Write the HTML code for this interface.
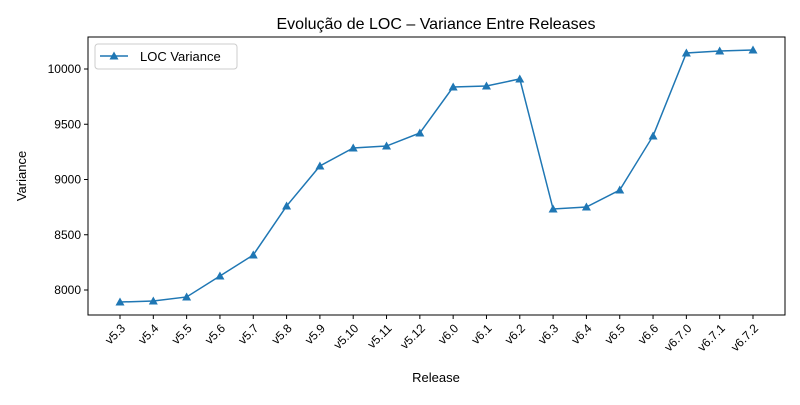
<!DOCTYPE html>
<html><head><meta charset="utf-8"><style>body{margin:0;background:#fff}svg{font-family:"Liberation Sans","DejaVu Sans",sans-serif}</style></head>
<body>
<svg id="c" width="800" height="400" xmlns="http://www.w3.org/2000/svg"></svg>
<script>
const categories=["v5.3","v5.4","v5.5","v5.6","v5.7","v5.8","v5.9","v5.10","v5.11","v5.12","v6.0","v6.1","v6.2","v6.3","v6.4","v6.5","v6.6","v6.7.0","v6.7.1","v6.7.2"];
const variance=[7891,7900,7937,8127,8317,8760,9122,9285,9303,9421,9837,9846,9910,8733,8751,8905,9394,10145,10163,10172];
const yTicks=[8000,8500,9000,9500,10000];
const L=88,R=785,T=37,B=315;
const x=i=>120+i*(753-120)/(categories.length-1);
const y=v=>290-(v-8000)*0.1105;
const s=document.getElementById('c');const NS="http://www.w3.org/2000/svg";
function el(t,a,p){const e=document.createElementNS(NS,t);for(const k in a)e.setAttribute(k,a[k]);(p||s).appendChild(e);return e;}
const frame=el('rect',{x:L,y:T,width:R-L,height:B-T,fill:'none',stroke:'#000','stroke-width':1});


yTicks.forEach(v=>{const g=el('g',{});


el('line',{x1:L-4,x2:L,y1:y(v),y2:y(v),stroke:'#000'},g);
const t=el('text',{x:L-7,y:y(v)+4,'text-anchor':'end','font-size':12},g);t.textContent=v;});
categories.forEach((c,i)=>{const g=el('g',{});


el('line',{x1:x(i),x2:x(i),y1:B,y2:B+4,stroke:'#000'},g);
const t=el('text',{transform:`translate(${x(i)+6},${B+14}) rotate(-45)`,'text-anchor':'end','font-size':12},g);t.textContent=c;});
const line=el('polyline',{points:variance.map((v,i)=>x(i)+','+y(v)).join(' '),fill:'none',stroke:'#1f77b4','stroke-width':1.5});


variance.forEach((v,i)=>{const m=el('polygon',{points:`${x(i)},${y(v)-4.5} ${x(i)-4.5},${y(v)+3.5} ${x(i)+4.5},${y(v)+3.5}`,fill:'#1f77b4'});

});
const title=el('text',{x:436,y:29,'text-anchor':'middle','font-size':16});title.textContent='Evolução de LOC – Variance Entre Releases';


const xt=el('text',{x:436,y:382,'text-anchor':'middle','font-size':13});xt.textContent='Release';


const yt=el('text',{transform:'translate(26,176) rotate(-90)','text-anchor':'middle','font-size':13});yt.textContent='Variance';


const lg=el('g',{});


el('rect',{x:95,y:44,width:142,height:25,rx:3,fill:'#fff',stroke:'#ccc'},lg);
el('line',{x1:100,x2:128,y1:56,y2:56,stroke:'#1f77b4','stroke-width':1.5},lg);
el('polygon',{points:'114,51.5 109.5,59.5 118.5,59.5',fill:'#1f77b4'},lg);
const lt=el('text',{x:140,y:61,'font-size':13},lg);lt.textContent='LOC Variance';
</script>
</body></html>
